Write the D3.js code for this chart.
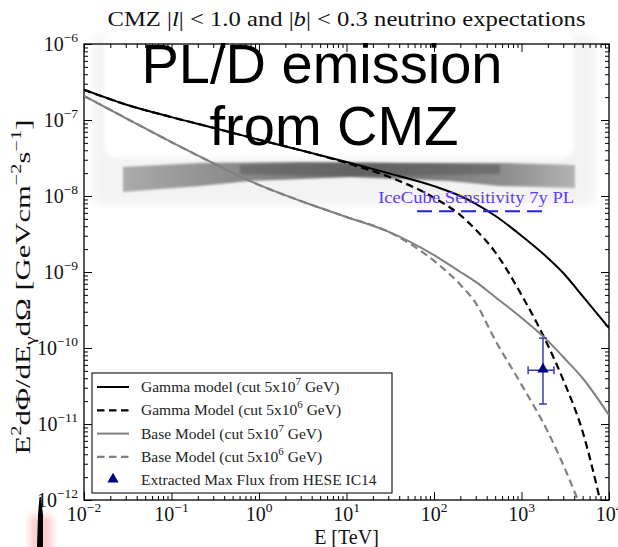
<!DOCTYPE html>
<html lang="en">
<head>
<meta charset="UTF-8">
<title>CMZ neutrino expectations</title>
<style>
  body { margin: 0; background: #fff; }
  svg { display: block; }
  .serif { font-family: "Liberation Serif", "Times New Roman", serif; }
  .axis line { stroke: #000; stroke-width: 1; }
  .axis .domain { display: none; }
</style>
</head>
<body>
<div id="chart"></div>
<script src="https://cdnjs.cloudflare.com/ajax/libs/d3/7.8.5/d3.min.js"></script>
<script>
'use strict';

// energies in TeV, fluxes in GeV cm^-2 s^-1 sr^-1
const energyTeV = [0.01, 0.03, 0.1, 0.3, 1, 3, 10, 30, 100, 200, 300, 500, 1000, 2000, 3000, 5000, 10000];
const gammaCut7 = [2.5e-7, 1.6e-7, 1.09e-7, 7.9e-8, 5.5e-8, 4.0e-8, 2.8e-8, 2.0e-8, 1.35e-8, 1.0e-8, 7.9e-9, 5.5e-9, 3.0e-9, 1.53e-9, 9.7e-10, 4.8e-10, 1.83e-10];
const baseCut7 = [2.07e-7, 1.06e-7, 5.1e-8, 2.7e-8, 1.4e-8, 8.6e-9, 5.3e-9, 3.4e-9, 1.67e-9, 1.0e-9, 7.4e-10, 4.7e-10, 2.5e-10, 1.24e-10, 7.6e-11, 4.0e-11, 1.31e-11];

const energyGammaCut6 = [0.01, 0.03, 0.1, 0.3, 1, 3, 10, 30, 100, 200, 300, 500, 1000, 2000, 3000, 5000, 8000];
const gammaCut6 = [2.5e-7, 1.6e-7, 1.09e-7, 7.9e-8, 5.5e-8, 4.0e-8, 2.72e-8, 1.8e-8, 9.5e-9, 5.6e-9, 3.6e-9, 1.83e-9, 5.0e-10, 1.09e-10, 3.8e-11, 7.9e-12, 9.4e-13];

const energyBaseCut6 = [0.01, 0.03, 0.1, 0.3, 1, 3, 10, 30, 100, 200, 300, 500, 1000, 2000, 3000, 4500];
const baseCut6 = [2.07e-7, 1.06e-7, 5.1e-8, 2.7e-8, 1.4e-8, 8.6e-9, 5.3e-9, 3.4e-9, 1.4e-9, 6.8e-10, 3.9e-10, 1.27e-10, 3.3e-11, 7.9e-12, 2.9e-12, 9.4e-13];

// IceCube 7y point-source-like sensitivity
const sensEnergy = [64, 1760];
const sensFlux = 6.3e-9;

// HESE IC14 extracted max flux
const heseEnergy = 1760, heseEnergyLo = 1190, heseEnergyHi = 2350;
const heseFlux = 5.1e-11, heseFluxLo = 1.83e-11, heseFluxHi = 1.35e-10;

const xExponents = [-2, -1, 0, 1, 2, 3, 4];
const yExponents = [-12, -11, -10, -9, -8, -7, -6];

const legendLabels = [
  ["Gamma model (cut 5x10", "7", " GeV)"],
  ["Gamma Model (cut 5x10", "6", " GeV)"],
  ["Base Model (cut 5x10", "7", " GeV)"],
  ["Base Model (cut 5x10", "6", " GeV)"],
  ["Extracted Max Flux from HESE IC14"]
];

const width = 618, height = 547;
const plotLeft = 84, plotRight = 609, plotTop = 44, plotBottom = 500;

const svg = d3.select("#chart").append("svg")
  .attr("width", width)
  .attr("height", height);

const defs = svg.append("defs");
[["blur5", 5], ["blur2", 2], ["blur1", 1.3], ["blur4", 4]].forEach(([id, s]) => {
  defs.append("filter").attr("id", id)
    .attr("x", "-20%").attr("y", "-50%").attr("width", "140%").attr("height", "200%")
    .append("feGaussianBlur").attr("stdDeviation", s);
});
defs.append("clipPath").attr("id", "plotClip")
  .append("rect").attr("x", plotLeft).attr("y", plotTop)
  .attr("width", plotRight - plotLeft).attr("height", plotBottom - plotTop);
const grad = defs.append("linearGradient").attr("id", "bandGrad")
  .attr("x1", "0%").attr("x2", "100%");
[[0, "#ababab"], [0.25, "#8a8a8a"], [0.55, "#6e6e6e"], [0.85, "#8e8e8e"], [1, "#b4b4b4"]].forEach(([o, c]) => {
  grad.append("stop").attr("offset", o).attr("stop-color", c);
});

const x = d3.scaleLog().domain([1e-2, 1e4]).range([plotLeft, plotRight]);
const y = d3.scaleLog().domain([1e-12, 1e-6]).range([plotBottom, plotTop]);

// faded screenshot backdrop behind the upper part of the plot
svg.append("rect").attr("x", 94).attr("y", 36).attr("width", 500).attr("height", 168)
  .attr("fill", "#f3f3f3").attr("filter", "url(#blur5)");
svg.append("rect").attr("x", 104).attr("y", 30).attr("width", 470).attr("height", 128)
  .attr("rx", 12).attr("fill", "#fff").attr("filter", "url(#blur2)");
const band = [[123, 167], [200, 163], [300, 162], [400, 163], [500, 163], [575, 165],
  [575, 188], [500, 186], [450, 181], [350, 177], [250, 181], [200, 186], [123, 192]];
svg.append("path").attr("d", d3.line()(band) + "Z")
  .attr("fill", "url(#bandGrad)").attr("filter", "url(#blur1)");
svg.append("path")
  .attr("d", d3.line()([[240, 165], [330, 163], [440, 164], [500, 165], [500, 174], [440, 175], [330, 176], [240, 174]]) + "Z")
  .attr("fill", "#555").attr("opacity", 0.5).attr("filter", "url(#blur1)");

// frame
svg.append("rect").attr("x", plotLeft).attr("y", plotTop)
  .attr("width", plotRight - plotLeft).attr("height", plotBottom - plotTop)
  .attr("fill", "none").attr("stroke", "#000").attr("stroke-width", 1.3);

// ticks
const majorX = xExponents.map(p => Math.pow(10, p));
const majorY = yExponents.map(p => Math.pow(10, p));
const minorX = [], minorY = [];
xExponents.slice(0, -1).forEach(p => d3.range(2, 10).forEach(m => minorX.push(m * Math.pow(10, p))));
yExponents.slice(0, -1).forEach(p => d3.range(2, 10).forEach(m => minorY.push(m * Math.pow(10, p))));

function addAxis(axisFn, scale, pos, ticks, size, horizontal) {
  const g = svg.append("g").attr("class", "axis")
    .attr("transform", horizontal ? `translate(0,${pos})` : `translate(${pos},0)`);
  g.call(axisFn(scale).tickValues(ticks).tickSize(-size).tickFormat(""));
}
[[d3.axisBottom, plotBottom], [d3.axisTop, plotTop]].forEach(([fn, pos]) => {
  addAxis(fn, x, pos, majorX, 8, true);
  addAxis(fn, x, pos, minorX, 4, true);
});
[[d3.axisLeft, plotLeft], [d3.axisRight, plotRight]].forEach(([fn, pos]) => {
  addAxis(fn, y, pos, majorY, 8, false);
  addAxis(fn, y, pos, minorY, 4, false);
});

// tick labels
xExponents.forEach(p => {
  const t = svg.append("text").attr("class", "serif")
    .attr("x", x(Math.pow(10, p))).attr("y", 521)
    .attr("text-anchor", "middle").attr("font-size", 20).attr("fill", "#111");
  t.append("tspan").text("10");
  t.append("tspan").attr("font-size", 13.5).attr("dy", -9).text(String(p).replace("-", "\u2212"));
});
yExponents.forEach(p => {
  const t = svg.append("text").attr("class", "serif")
    .attr("x", 78).attr("y", y(Math.pow(10, p)) + 7)
    .attr("text-anchor", "end").attr("font-size", 20).attr("fill", "#111");
  t.append("tspan").text("10");
  t.append("tspan").attr("font-size", 13.5).attr("dy", -9).text(String(p).replace("-", "\u2212"));
});

// title
const title = svg.append("text").attr("class", "serif")
  .attr("x", (plotLeft + plotRight) / 2).attr("y", 26).attr("text-anchor", "middle")
  .attr("font-size", 21).attr("fill", "#111")
  .attr("textLength", 478).attr("lengthAdjust", "spacingAndGlyphs");
title.append("tspan").text("CMZ |");
title.append("tspan").attr("font-style", "italic").text("l");
title.append("tspan").text("| < 1.0 and |");
title.append("tspan").attr("font-style", "italic").text("b");
title.append("tspan").text("| < 0.3 neutrino expectations");

// axis titles
svg.append("text").attr("class", "serif")
  .attr("x", (plotLeft + plotRight) / 2).attr("y", 544).attr("text-anchor", "middle")
  .attr("font-size", 20).attr("fill", "#111").text("E [TeV]");

const yt = svg.append("text").attr("class", "serif")
  .attr("transform", "translate(30,287) rotate(-90)")
  .attr("text-anchor", "middle").attr("font-size", 21).attr("fill", "#111")
  .attr("textLength", 335).attr("lengthAdjust", "spacingAndGlyphs");
yt.append("tspan").text("E");
yt.append("tspan").attr("font-size", 14).attr("dy", -9).text("2");
yt.append("tspan").attr("dy", 9).text("d\u03a6/dE");
yt.append("tspan").attr("font-size", 14).attr("dy", 5).text("\u03b3");
yt.append("tspan").attr("dy", -5).text("d\u03a9 [GeVcm");
yt.append("tspan").attr("font-size", 14).attr("dy", -9).text("\u22122");
yt.append("tspan").attr("dy", 9).text("s");
yt.append("tspan").attr("font-size", 14).attr("dy", -9).text("\u22121");
yt.append("tspan").attr("dy", 9).text("]");

// model curves
const series = [
  { label: legendLabels[0], e: energyTeV, f: gammaCut7, color: "#000", dash: null, w: 2 },
  { label: legendLabels[1], e: energyGammaCut6, f: gammaCut6, color: "#000", dash: "7.5,4.5", w: 2.2 },
  { label: legendLabels[2], e: energyTeV, f: baseCut7, color: "#808080", dash: null, w: 2 },
  { label: legendLabels[3], e: energyBaseCut6, f: baseCut6, color: "#808080", dash: "7.5,4.5", w: 2.2 }
];

const line = d3.line()
  .x(d => x(d[0]))
  .y(d => y(d[1]))
  .curve(d3.curveMonotoneX);

const plot = svg.append("g").attr("clip-path", "url(#plotClip)");
series.forEach(s => {
  plot.append("path")
    .datum(s.e.map((e, i) => [e, s.f[i]]))
    .attr("d", line)
    .attr("fill", "none")
    .attr("stroke", s.color)
    .attr("stroke-width", s.w)
    .attr("stroke-dasharray", s.dash);
});

// IceCube sensitivity
plot.append("line")
  .attr("x1", x(sensEnergy[0])).attr("x2", x(sensEnergy[1]))
  .attr("y1", y(sensFlux)).attr("y2", y(sensFlux))
  .attr("stroke", "#1f1ff2").attr("stroke-width", 2)
  .attr("stroke-dasharray", "15,7");
svg.append("text").attr("class", "serif")
  .attr("x", x(23)).attr("y", y(sensFlux) - 8)
  .attr("font-size", 16).attr("fill", "#5b3cf5")
  .attr("textLength", 196).attr("lengthAdjust", "spacingAndGlyphs")
  .text("IceCube Sensitivity 7y PL");

// HESE point with error bars
const errColor = "#3d3daa";
const ex = x(heseEnergy), ey = y(heseFlux);
const eb = svg.append("g").attr("stroke", errColor).attr("stroke-width", 1.5);
eb.append("line").attr("x1", ex).attr("x2", ex).attr("y1", y(heseFluxHi)).attr("y2", y(heseFluxLo));
eb.append("line").attr("x1", x(heseEnergyLo)).attr("x2", x(heseEnergyHi)).attr("y1", ey).attr("y2", ey);
[y(heseFluxHi), y(heseFluxLo)].forEach(cy => {
  eb.append("line").attr("x1", ex - 4).attr("x2", ex + 4).attr("y1", cy).attr("y2", cy);
});
[x(heseEnergyLo), x(heseEnergyHi)].forEach(cx => {
  eb.append("line").attr("x1", cx).attr("x2", cx).attr("y1", ey - 4).attr("y2", ey + 4);
});
const tri = d3.symbol().type(d3.symbolTriangle).size(55);
svg.append("path").attr("d", tri()).attr("transform", `translate(${ex},${ey - 1})`)
  .attr("fill", "#000080");

// legend
const lg = svg.append("g");
lg.append("rect").attr("x", 92).attr("y", 373).attr("width", 300).attr("height", 120)
  .attr("fill", "#fff").attr("stroke", "#222").attr("stroke-width", 1.2);
const rowY = i => 387 + i * 23.3;
series.forEach((s, i) => {
  lg.append("line").attr("x1", 97).attr("x2", 129).attr("y1", rowY(i)).attr("y2", rowY(i))
    .attr("stroke", s.color).attr("stroke-width", s.w).attr("stroke-dasharray", s.dash);
});
lg.append("path").attr("d", tri()).attr("transform", `translate(113,${rowY(4) - 1})`)
  .attr("fill", "#000080");
legendLabels.forEach((parts, i) => {
  const t = lg.append("text").attr("class", "serif")
    .attr("x", 141).attr("y", rowY(i) + 5)
    .attr("font-size", 15.5).attr("fill", "#222");
  t.append("tspan").text(parts[0]);
  if (parts.length > 1) {
    t.append("tspan").attr("font-size", 11).attr("dy", -7).text(parts[1]);
    t.append("tspan").attr("dy", 7).text(parts[2]);
  }
});

// overlay annotation
[["PL/D emission", 322, 83], ["from CMZ", 334, 145]].forEach(([txt, cx, by]) => {
  svg.append("text")
    .attr("x", cx).attr("y", by).attr("text-anchor", "middle")
    .attr("font-family", "'Liberation Sans', Arial, sans-serif")
    .attr("font-size", 56).attr("fill", "#000")
    .text(txt);
});

// stray mark at the bottom left
svg.append("rect").attr("x", 30).attr("y", 515).attr("width", 22).attr("height", 40)
  .attr("fill", "#ff8a8a").attr("opacity", 0.45).attr("filter", "url(#blur4)");
svg.append("path")
  .attr("d", "M39.5,497 L41,497 L43,515 L43,547 L37,547 L38,515 Z")
  .attr("fill", "#000");
</script>
</body>
</html>
